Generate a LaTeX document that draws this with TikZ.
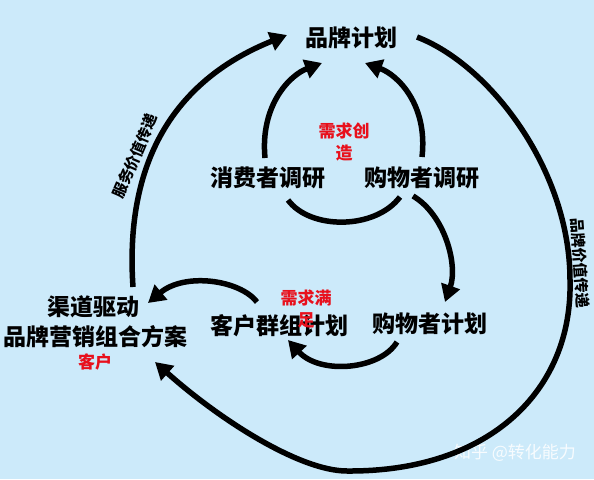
\documentclass[tikz,border=0pt]{standalone}
\usepackage{fontspec}
\setmainfont{Noto Sans CJK SC}
\usetikzlibrary{arrows.meta}
\definecolor{bg}{RGB}{204,234,250}
\definecolor{redtxt}{RGB}{232,16,28}
\begin{document}
\begin{tikzpicture}[x=1pt,y=-1pt,
  arc/.style={line width=5.5pt, draw=black},
  arrowarc/.style={arc, -{Triangle[length=17pt,width=19pt]}},
  big/.style={font=\fontsize{23}{26}\selectfont\bfseries, inner sep=0pt},
  redlbl/.style={font=\fontsize{17}{22}\selectfont\bfseries, text=redtxt, inner sep=0pt, align=center},
  side/.style={font=\fontsize{15}{17}\selectfont\bfseries, inner sep=0pt},
  wmark/.style={font=\fontsize{17}{20}\selectfont, text=white, opacity=0.85, inner sep=0pt}]
\fill[bg] (0,0) rectangle (594,479);
\useasboundingbox (0,0) rectangle (594,479);
% nodes
\node[big] (brand) at (351,38) {品牌计划};
\node[big] (consumer) at (268,178) {消费者调研};
\node[big] (shopres) at (422,178) {购物者调研};
\node[big] (shopplan) at (430,324) {购物者计划};
\node[big] (cust) at (279,326) {客户群组计划};
\node[big] (ch1) at (93,307) {渠道驱动};
\node[big] (ch2) at (95,337) {品牌营销组合方案};
\node[redlbl] (create) at (344,142) {需求创\\造};
\node[redlbl] (satisfy) at (306,309) {需求满\\足};
\node[redlbl] (client) at (95,362) {客户};
\node[side, rotate=67] (service) at (135,156) {服务价值传递};
\node[side, rotate=-86] (brandval) at (580,263) {品牌价值传递};
\node[wmark] (wm) at (515,453) {知乎 @转化能力};
% connector ends
\coordinate (lbS) at (133,287);
\coordinate (lbE) at (287,35);
\coordinate (rbS) at (417,37);
\coordinate (rbE) at (155,362);
\coordinate (ilS) at (265,158);
\coordinate (ilE) at (322,63);
\coordinate (irS) at (422,157);
\coordinate (irE) at (365,63);
\coordinate (ubL) at (288,200);
\coordinate (ubR) at (400,197);
\coordinate (rsS) at (413,196);
\coordinate (rsE) at (445,302);
\coordinate (bpS) at (397,342);
\coordinate (bpE) at (288,340);
\coordinate (cgS) at (257,302);
\coordinate (cgE) at (148,303);
% connectors
\draw[arrowarc] (lbS) .. controls (124,155) and (180,78) .. (lbE);
\draw[arrowarc] (rbS) .. controls (490,65) and (570,170) .. (570,280)
  .. controls (573,390) and (490,472) .. (347,471)
  .. controls (300,471) and (220,420) .. (rbE);
\draw[arrowarc] (ilS) .. controls (260,105) and (290,75) .. (ilE);
\draw[arrowarc] (irS) .. controls (428,105) and (398,75) .. (irE);
\draw[arc] (ubL) .. controls (310,230) and (375,230) .. (ubR);
\draw[arrowarc] (rsS) .. controls (445,215) and (458,265) .. (rsE);
\draw[arrowarc] (bpS) .. controls (380,370) and (320,375) .. (bpE);
\draw[arrowarc] (cgS) .. controls (240,280) and (185,272) .. (cgE);
\end{tikzpicture}
\end{document}
